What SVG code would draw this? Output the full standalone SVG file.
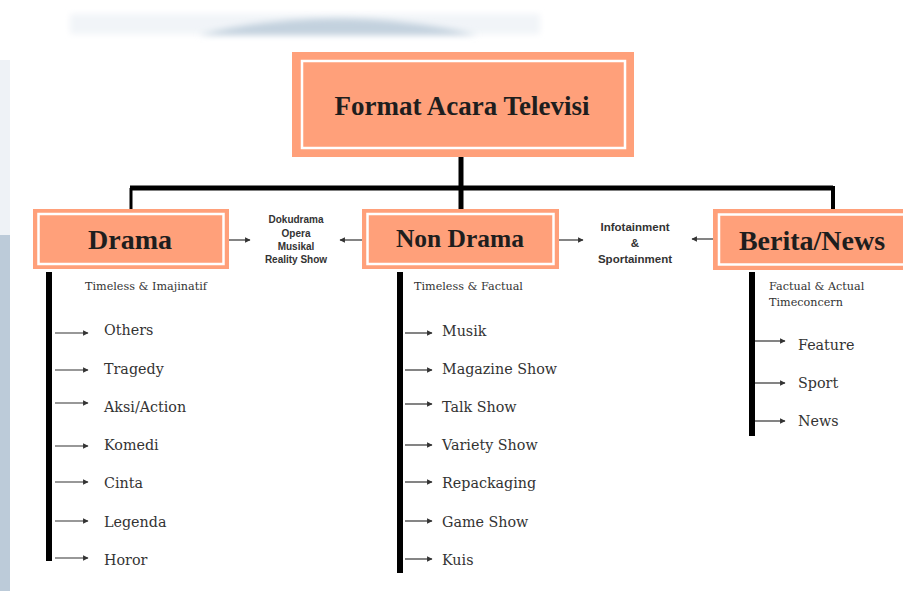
<svg xmlns="http://www.w3.org/2000/svg" width="903" height="591" viewBox="0 0 903 591">
<defs>
<style>
.box{fill:#FFA07A;}
.inner{fill:none;stroke:#ffffff;stroke-width:2.5;}
.head{font-family:"Liberation Serif","DejaVu Serif",serif;font-weight:bold;fill:#1e1e1e;text-anchor:middle;}
.side{font-family:"Liberation Sans",Arial,sans-serif;font-weight:bold;font-size:10px;fill:#333;text-anchor:middle;}
.side2{font-family:"Liberation Sans",Arial,sans-serif;font-weight:bold;font-size:11.5px;fill:#333;text-anchor:middle;}
.sub{font-family:"DejaVu Serif",serif;font-size:11.2px;fill:#333;}
.item{font-family:"DejaVu Serif",serif;font-size:14.3px;fill:#333;}
.trunk{stroke:#000;stroke-width:5;fill:none;}
.bar{fill:#000;}
.arr{stroke:#333;stroke-width:1.2;fill:none;marker-end:url(#ah);}
</style>
<marker id="ah" viewBox="0 0 10 10" refX="9" refY="5" markerWidth="5.5" markerHeight="5.5" orient="auto" markerUnits="userSpaceOnUse">
<path d="M0,0 L10,5 L0,10 z" fill="#333"/>
</marker>
<filter id="blur" x="-20%" y="-50%" width="140%" height="200%"><feGaussianBlur stdDeviation="3"/></filter>
</defs>
<rect width="903" height="591" fill="#ffffff"/>
<g id="background">
<rect x="70" y="14" width="470" height="20" fill="#f1f4f8" filter="url(#blur)"/>
<path d="M198,35 Q335,2 478,35 Z" fill="#c3d1de" filter="url(#blur)"/>
<rect x="0" y="235" width="10" height="356" fill="#bccbd9"/>
<rect x="0" y="60" width="10" height="175" fill="#eef2f6"/>
</g>
<g id="connectors">
<line class="trunk" x1="461" y1="156" x2="461" y2="210"/>
<line class="trunk" x1="130" y1="188" x2="833" y2="188"/>
<line x1="131" y1="188" x2="131" y2="209" stroke="#000" stroke-width="3"/>
<line x1="833" y1="186" x2="833" y2="209" stroke="#000" stroke-width="4"/>
<line class="arr" x1="220" y1="240" x2="250" y2="240"/>
<line class="arr" x1="370" y1="240" x2="340" y2="240"/>
<line class="arr" x1="555" y1="240" x2="583" y2="240"/>
<line class="arr" x1="723" y1="239" x2="692" y2="239"/>
<rect class="bar" x="46" y="272" width="6" height="289"/>
<rect class="bar" x="397" y="272" width="6" height="301"/>
<rect class="bar" x="749" y="272" width="6" height="164"/>
<line class="arr" x1="55" y1="333" x2="88" y2="333"/>
<line class="arr" x1="55" y1="370" x2="88" y2="370"/>
<line class="arr" x1="55" y1="403" x2="88" y2="403"/>
<line class="arr" x1="55" y1="446" x2="88" y2="446"/>
<line class="arr" x1="55" y1="482" x2="88" y2="482"/>
<line class="arr" x1="55" y1="521" x2="88" y2="521"/>
<line class="arr" x1="55" y1="558" x2="88" y2="558"/>
<line class="arr" x1="405" y1="333" x2="432" y2="333"/>
<line class="arr" x1="405" y1="370" x2="432" y2="370"/>
<line class="arr" x1="405" y1="404" x2="432" y2="404"/>
<line class="arr" x1="405" y1="445" x2="432" y2="445"/>
<line class="arr" x1="405" y1="482" x2="432" y2="482"/>
<line class="arr" x1="405" y1="521" x2="432" y2="521"/>
<line class="arr" x1="405" y1="559" x2="432" y2="559"/>
<line class="arr" x1="755" y1="341" x2="785" y2="341"/>
<line class="arr" x1="755" y1="383" x2="785" y2="383"/>
<line class="arr" x1="755" y1="421" x2="785" y2="421"/>
</g>
<g id="format-acara-televisi">
<rect class="box" x="292" y="52" width="342" height="105"/>
<rect class="inner" x="302" y="61" width="323" height="87"/>
<text class="head" x="462" y="115" font-size="27">Format Acara Televisi</text>
</g>
<g id="drama">
<rect class="box" x="33" y="209" width="196" height="60"/>
<rect class="inner" x="38.5" y="214" width="185" height="50"/>
<text class="head" x="130" y="249" font-size="28">Drama</text>
</g>
<g id="non-drama">
<rect class="box" x="362" y="209" width="197" height="60"/>
<rect class="inner" x="367.5" y="214" width="186" height="50"/>
<text class="head" x="460" y="247" font-size="25.5">Non Drama</text>
</g>
<g id="berita-news">
<rect class="box" x="713" y="209" width="195" height="61"/>
<rect class="inner" x="719" y="214.5" width="190" height="50"/>
<text class="head" x="812" y="250" font-size="28">Berita/News</text>
</g>
<g id="drama-nondrama-shared">
<text class="side" x="296" y="223">Dokudrama</text>
<text class="side" x="296" y="237">Opera</text>
<text class="side" x="296" y="250">Musikal</text>
<text class="side" x="296" y="263">Reality Show</text>
</g>
<g id="nondrama-berita-shared">
<text class="side2" x="635" y="231">Infotainment</text>
<text class="side2" x="635" y="247">&amp;</text>
<text class="side2" x="635" y="263">Sportainment</text>
</g>
<g id="drama-items">
<text class="sub" x="85" y="290">Timeless &amp; Imajinatif</text>
<text class="item" x="104" y="335">Others</text>
<text class="item" x="104" y="374">Tragedy</text>
<text class="item" x="104" y="412">Aksi/Action</text>
<text class="item" x="104" y="450">Komedi</text>
<text class="item" x="104" y="488">Cinta</text>
<text class="item" x="104" y="527">Legenda</text>
<text class="item" x="104" y="565">Horor</text>
</g>
<g id="non-drama-items">
<text class="sub" x="414" y="290">Timeless &amp; Factual</text>
<text class="item" x="442" y="336">Musik</text>
<text class="item" x="442" y="374">Magazine Show</text>
<text class="item" x="442" y="412">Talk Show</text>
<text class="item" x="442" y="450">Variety Show</text>
<text class="item" x="442" y="488">Repackaging</text>
<text class="item" x="442" y="527">Game Show</text>
<text class="item" x="442" y="565">Kuis</text>
</g>
<g id="berita-items">
<text class="sub" x="769" y="290">Factual &amp; Actual</text>
<text class="sub" x="769" y="306">Timeconcern</text>
<text class="item" x="798" y="350">Feature</text>
<text class="item" x="798" y="388">Sport</text>
<text class="item" x="798" y="426">News</text>
</g>
</svg>
